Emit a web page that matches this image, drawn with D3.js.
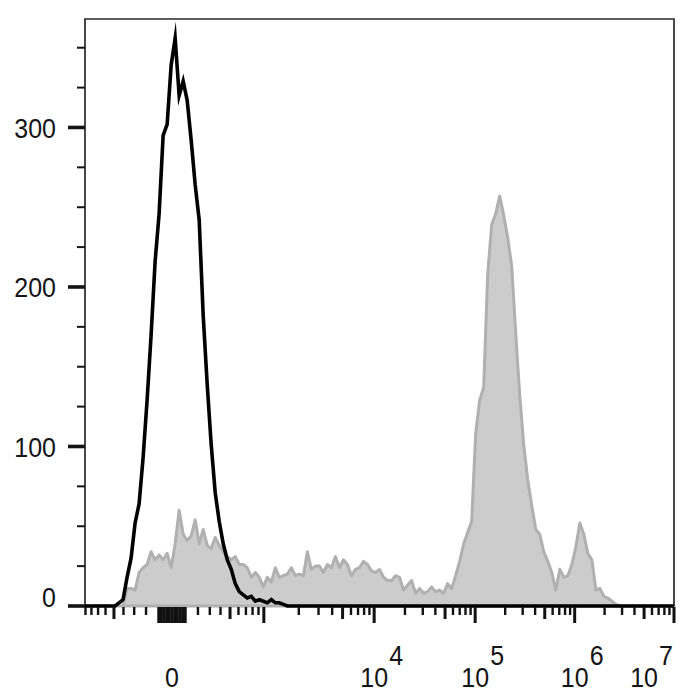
<!DOCTYPE html>
<html>
<head>
<meta charset="utf-8">
<script src="https://cdn.jsdelivr.net/npm/d3@7/dist/d3.min.js"></script>
<style>
  body { margin: 0; background: #fff; }
  text { font-family: "Liberation Sans", Arial, sans-serif; fill: #141414; }
</style>
</head>
<body>
<div id="hist"></div>
<script>
// event counts per display channel, channels evenly spaced on the biexponential axis
var stainedCounts = [
  0, 0, 0, 0, 0, 0, 0, 0, 0, 0,
  11, 11, 10, 21, 24, 26, 34, 29, 32, 29,
  33, 24, 39, 60, 45, 41, 44, 54, 39, 48,
  38, 36, 43, 38, 34, 31, 29, 31, 26, 26,
  24, 18, 21, 18, 12, 18, 15, 24, 18, 19,
  20, 24, 19, 20, 19, 34, 23, 25, 25, 21,
  26, 24, 31, 24, 29, 26, 19, 23, 24, 28,
  26, 22, 21, 23, 18, 16, 16, 19, 18, 10,
  13, 16, 8, 11, 8, 9, 12, 9, 10, 8,
  14, 11, 19, 28, 39, 46, 53, 108, 129, 137,
  208, 239, 246, 257, 245, 231, 213, 171, 132, 101,
  79, 63, 48, 45, 34, 28, 21, 10, 23, 18,
  19, 26, 37, 52, 45, 33, 29, 10, 11, 6,
  5, 3, 1, 0, 0, 0, 0, 0, 0, 0,
  0, 0, 0, 0, 0, 0, 0
];
var controlCounts = [
  0, 0, 0, 0, 0, 0, 0, 0, 2, 4,
  18, 30, 52, 64, 93, 129, 170, 216, 246, 295,
  302, 339, 356, 320, 329, 317, 292, 264, 242, 182,
  139, 101, 71, 53, 39, 29, 23, 14, 9, 7,
  5, 6, 3, 4, 3, 2, 4, 2, 2, 1,
  0, 0, 0, 0, 0, 0, 0, 0, 0, 0,
  0, 0, 0, 0, 0, 0, 0, 0, 0, 0,
  0, 0, 0, 0, 0, 0, 0, 0, 0, 0,
  0, 0, 0, 0, 0, 0, 0, 0, 0, 0,
  0, 0, 0, 0, 0, 0, 0, 0, 0, 0,
  0, 0, 0, 0, 0, 0, 0, 0, 0, 0,
  0, 0, 0, 0, 0, 0, 0, 0, 0, 0,
  0, 0, 0, 0, 0, 0, 0, 0, 0, 0,
  0, 0, 0, 0, 0, 0, 0, 0, 0, 0,
  0, 0, 0, 0, 0, 0, 0
];

var yTickValues = [0, 25, 50, 75, 100, 125, 150, 175, 200, 225, 250, 275, 300, 325, 350];
var yLabelValues = [0, 100, 200, 300];
var xZeroTicks = [-100, -80, -60, -40, -20, 0, 20, 40, 60, 80, 100];
var xDecades = [1e3, 1e4, 1e5, 1e6, 1e7];
var xMantissas = [2, 3, 4, 5, 6, 7, 8, 9];
var xLabelExponents = [4, 5, 6, 7];

var width = 700, height = 700;
var plot = {left: 85, right: 674, top: 19, bottom: 606};

// biexponential (logicle style) display: decades around zero
var T = 1e7, p = 2.68, dMin = -0.876, dMax = 5.055;
function biexS(d) {
  return Math.pow(10, d) - p * p * Math.pow(10, -d / p) + p * p - 1;
}
var K = T / biexS(dMax);
function biex(v) {
  var a = Math.abs(v) / K, lo = 0, hi = dMax + 2;
  for (var k = 0; k < 60; k++) {
    var mid = (lo + hi) / 2;
    if (biexS(mid) < a) lo = mid; else hi = mid;
  }
  return v < 0 ? -lo : lo;
}

var xDisp = d3.scaleLinear().domain([dMin, dMax]).range([plot.left, plot.right]);
var x = function(v) { return xDisp(biex(v)); };
var y = d3.scaleLinear().domain([0, 368]).range([plot.bottom, plot.top]);

var svg = d3.select("#hist").append("svg")
    .attr("width", width)
    .attr("height", height);

function channels(counts) {
  var w = (dMax - dMin) / counts.length;
  var pts = counts.map(function(c, i) { return {d: dMin + (i + 0.5) * w, c: c}; });
  return [{d: dMin, c: 0}].concat(pts, [{d: dMax, c: 0}]);
}

// stained sample, grey filled
var area = d3.area()
    .x(function(d) { return xDisp(d.d); })
    .y0(y(0))
    .y1(function(d) { return y(d.c); });

svg.append("path")
    .datum(channels(stainedCounts))
    .attr("d", area)
    .attr("fill", "#cccccc")
    .attr("stroke", "#b0b0b0")
    .attr("stroke-width", 3)
    .attr("stroke-linejoin", "round");

// frame
svg.append("path")
    .attr("d", "M" + plot.left + "," + plot.bottom + "V" + plot.top + "H" + plot.right + "V" + plot.bottom)
    .attr("fill", "none")
    .attr("stroke", "#2a2a2a")
    .attr("stroke-width", 1.7);

// control, black outline
var line = d3.line()
    .x(function(d) { return xDisp(d.d); })
    .y(function(d) { return y(d.c); });

svg.append("path")
    .datum(channels(controlCounts))
    .attr("d", line)
    .attr("fill", "none")
    .attr("stroke", "#000")
    .attr("stroke-width", 3.6)
    .attr("stroke-linejoin", "miter")
    .attr("stroke-miterlimit", 10);

// y axis ticks
svg.append("g").selectAll("line")
  .data(yTickValues)
  .enter().append("line")
    .attr("x1", function(d) { return yLabelValues.indexOf(d) >= 0 ? plot.left - 17 : plot.left - 8; })
    .attr("x2", plot.left)
    .attr("y1", function(d) { return y(d); })
    .attr("y2", function(d) { return y(d); })
    .attr("stroke", "#141414")
    .attr("stroke-width", function(d) { return yLabelValues.indexOf(d) >= 0 ? 3.6 : 2; });

svg.append("g").selectAll("text")
  .data(yLabelValues)
  .enter().append("text")
    .attr("transform", function(d) { return "translate(56," + (y(d) + (d === 0 ? 1 : 10.5)) + ") scale(1,1.12)"; })
    .attr("text-anchor", "end")
    .style("font-size", "25px")
    .text(function(d) { return d; });

// x axis ticks: {v, len}
var xTicks = [];
xZeroTicks.forEach(function(v) { xTicks.push({v: v, len: 16}); });
[-9, -8, -7, -6, -5, -4, -3, -2].forEach(function(m) { xTicks.push({v: m * 100, len: m === -5 ? 12 : 8}); });
[2, 3, 4, 5, 6, 7, 8, 9].forEach(function(m) { xTicks.push({v: m * 100, len: m === 5 ? 12 : 8}); });
xDecades.forEach(function(dec, i) {
  xTicks.push({v: dec, len: 16});
  if (i < xDecades.length - 1) xMantissas.forEach(function(m) { xTicks.push({v: m * dec, len: m === 5 ? 12 : 8}); });
});
xTicks = xTicks.filter(function(t) { var px = x(t.v); return px >= plot.left - 0.5 && px <= plot.right + 0.5; });

svg.append("g").selectAll("line")
  .data(xTicks)
  .enter().append("line")
    .attr("x1", function(d) { return x(d.v); })
    .attr("x2", function(d) { return x(d.v); })
    .attr("y1", plot.bottom + 1)
    .attr("y2", function(d) { return plot.bottom + 1 + d.len; })
    .attr("stroke", "#111")
    .attr("stroke-width", function(d) { return d.len > 8 ? 3 : 2.4; });

// x labels
var xl = svg.append("g");
xl.append("text")
    .attr("transform", "translate(" + x(0) + ",687) scale(1,1.12)")
    .attr("text-anchor", "middle")
    .style("font-size", "25px")
    .text("0");

xLabelExponents.forEach(function(e) {
  var g = xl.append("g");
  var cx = x(Math.pow(10, e));
  g.append("text")
      .attr("transform", "translate(" + cx + ",687) scale(1,1.12)")
      .attr("text-anchor", "middle")
      .style("font-size", "25px")
      .text("10");
  g.append("text")
      .attr("transform", "translate(" + (cx + 15) + ",665) scale(1,1.12)")
      .attr("text-anchor", "start")
      .style("font-size", "25px")
      .text(e);
  var box = g.node().getBBox();
  if (box.x + box.width > plot.right - 1) g.attr("transform", "translate(" + (plot.right - 1 - box.x - box.width) + ",0)");
});
</script>
</body>
</html>
